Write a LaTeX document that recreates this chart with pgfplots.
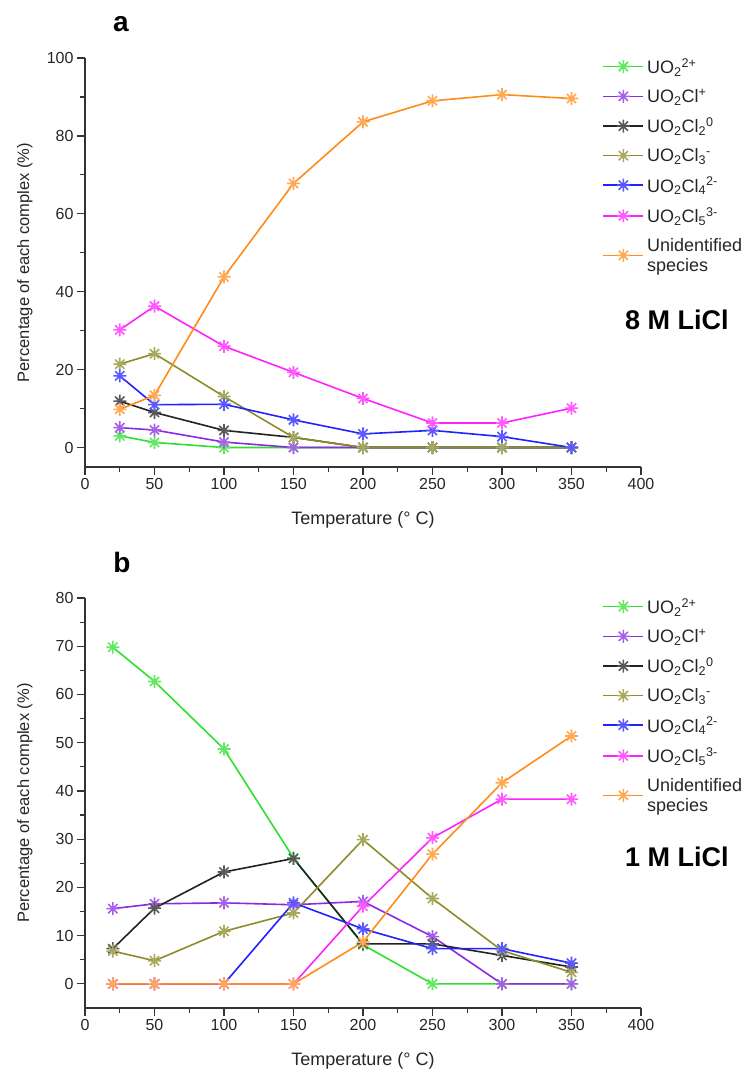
\documentclass[border=0pt]{standalone}
\usepackage{fontspec}
\setmainfont{Liberation Sans}
\usepackage{pgfplots}
\pgfplotsset{compat=1.18}

\definecolor{cgreen}{HTML}{2EE02E}
\definecolor{cviolet}{HTML}{8A2BE2}
\definecolor{cblack}{HTML}{222222}
\definecolor{colive}{HTML}{8C8C28}
\definecolor{cblue}{HTML}{2222FF}
\definecolor{cmagenta}{HTML}{FF22FF}
\definecolor{corange}{HTML}{FF8C1A}
\definecolor{axcol}{HTML}{333333}
\definecolor{txt}{HTML}{262626}

\pgfdeclareplotmark{ast8}{%
  \pgfpathmoveto{\pgfqpoint{0pt}{\pgfplotmarksize}}%
  \pgfpathlineto{\pgfqpoint{0pt}{-\pgfplotmarksize}}%
  \pgfpathmoveto{\pgfqpoint{\pgfplotmarksize}{0pt}}%
  \pgfpathlineto{\pgfqpoint{-\pgfplotmarksize}{0pt}}%
  \pgfpathmoveto{\pgfqpoint{.7071\pgfplotmarksize}{.7071\pgfplotmarksize}}%
  \pgfpathlineto{\pgfqpoint{-.7071\pgfplotmarksize}{-.7071\pgfplotmarksize}}%
  \pgfpathmoveto{\pgfqpoint{-.7071\pgfplotmarksize}{.7071\pgfplotmarksize}}%
  \pgfpathlineto{\pgfqpoint{.7071\pgfplotmarksize}{-.7071\pgfplotmarksize}}%
  \pgfusepathqstroke}

\pgfplotstableread{
x  g    p    k    o    b    m    r
25 3.0  5.1  11.9 21.4 18.4 30.2 9.8
50 1.3  4.5  9.0  24.1 11.0 36.3 13.4
100 0   1.4  4.4  13.1 11.1 26.0 43.8
150 0   0    2.6  2.6  7.1  19.3 67.8
200 0   0    0    0    3.5  12.6 83.6
250 0   0    0    0    4.4  6.3  89.0
300 0   0    0    0    2.8  6.3  90.6
350 0   0    0    0    0    10.1 89.6
}\dataA

\pgfplotstableread{
x  g    p    k    o    b    m    r
20 69.8 15.6 7.3  6.8  0    0    0
50 62.7 16.6 15.7 4.8  0    0    0
100 48.7 16.8 23.2 10.9 0   0    0
150 26.1 16.4 26.0 14.7 16.8 0   0
200 8.1 17.1 8.3  29.9 11.4 16.1 8.7
250 0   9.8  8.3  17.7 7.3  30.3 26.9
300 0   0    5.9  6.9  7.3  38.3 41.7
350 0   0    3.5  2.4  4.3  38.3 51.4
}\dataB

\pgfplotsset{
  panel/.style={
    scale only axis, width=556pt,
    xmin=0, xmax=400, xtick={0,50,...,400}, minor x tick num=1,
    axis x line*=bottom, axis y line*=left,
    tick align=outside, major tick length=8pt, minor tick length=5pt,
    axis line style={line width=1.2pt, color=axcol},
    every tick/.style={line width=1.2pt, color=axcol},
    tick label style={font=\fontsize{16}{16}\selectfont, color=txt},
    /pgf/number format/assume math mode=true,
    xlabel={Temperature (° C)},
    ylabel={Percentage of each complex (\%)},
    xlabel style={at={(axis description cs:0.5,-0.128)}, anchor=center,
      font=\fontsize{18}{18}\selectfont, color=txt},
    ylabel style={at={(axis description cs:-0.108,0.5)}, anchor=center,
      font=\fontsize{16.5}{16.5}\selectfont, color=txt},
    legend cell align=left,
    legend style={draw=none, fill=none, inner sep=0pt,
      at={(axis description cs:0.9305,1.0024)}, anchor=north west,
      font=\fontsize{18}{20}\selectfont, text=txt, row sep=12pt,
      nodes={inner ysep=1pt, inner xsep=3pt, align=left}},
    legend image code/.code={\draw[mark repeat=2,mark phase=2,##1] plot coordinates {(0pt,0pt) (20pt,0pt) (40pt,0pt)};},
    every axis plot/.append style={line width=1.6pt, mark=ast8, mark size=6.5pt,
      mark options={solid, line width=1pt}},
  }
}

\newcommand{\lgs}[1]{\rule{0pt}{13pt}#1\rule[-5pt]{0pt}{5pt}}

\begin{document}
\begin{tikzpicture}
\useasboundingbox (0pt,0pt) rectangle (745pt,-1070pt);

\begin{axis}[panel, at={(85pt,-467pt)}, anchor=south west, height=409pt,
  ymin=-5, ymax=100, ytick={0,20,...,100}, minor y tick num=1]
\addplot[color=cgreen, mark options={draw=cgreen!75!white}] table[x=x,y=g]{\dataA};
\addplot[color=cviolet, mark options={draw=cviolet!75!white}] table[x=x,y=p]{\dataA};
\addplot[color=cblack, mark options={draw=cblack!75!white}] table[x=x,y=k]{\dataA};
\addplot[color=colive, mark options={draw=colive!75!white}] table[x=x,y=o]{\dataA};
\addplot[color=cblue, mark options={draw=cblue!75!white}] table[x=x,y=b]{\dataA};
\addplot[color=cmagenta, mark options={draw=cmagenta!75!white}] table[x=x,y=m]{\dataA};
\addplot[color=corange, mark options={draw=corange!75!white}] table[x=x,y=r]{\dataA};
\legend{{\lgs{UO\textsubscript{2}\textsuperscript{2+}}},
{\lgs{UO\textsubscript{2}Cl\textsuperscript{+}}},
{\lgs{UO\textsubscript{2}Cl\textsubscript{2}\textsuperscript{0}}},
{\lgs{UO\textsubscript{2}Cl\textsubscript{3}\textsuperscript{-}}},
{\lgs{UO\textsubscript{2}Cl\textsubscript{4}\textsuperscript{2-}}},
{\lgs{UO\textsubscript{2}Cl\textsubscript{5}\textsuperscript{3-}}},
{Unidentified\\species}}
\end{axis}

\begin{axis}[panel, at={(85pt,-1008pt)}, anchor=south west, height=410pt,
  ymin=-5, ymax=80, ytick={0,10,...,80}, minor y tick num=1]
\addplot[color=cgreen, mark options={draw=cgreen!75!white}] table[x=x,y=g]{\dataB};
\addplot[color=cviolet, mark options={draw=cviolet!75!white}] table[x=x,y=p]{\dataB};
\addplot[color=cblack, mark options={draw=cblack!75!white}] table[x=x,y=k]{\dataB};
\addplot[color=colive, mark options={draw=colive!75!white}] table[x=x,y=o]{\dataB};
\addplot[color=cblue, mark options={draw=cblue!75!white}] table[x=x,y=b]{\dataB};
\addplot[color=cmagenta, mark options={draw=cmagenta!75!white}] table[x=x,y=m]{\dataB};
\addplot[color=corange, mark options={draw=corange!75!white}] table[x=x,y=r]{\dataB};
\legend{{\lgs{UO\textsubscript{2}\textsuperscript{2+}}},
{\lgs{UO\textsubscript{2}Cl\textsuperscript{+}}},
{\lgs{UO\textsubscript{2}Cl\textsubscript{2}\textsuperscript{0}}},
{\lgs{UO\textsubscript{2}Cl\textsubscript{3}\textsuperscript{-}}},
{\lgs{UO\textsubscript{2}Cl\textsubscript{4}\textsuperscript{2-}}},
{\lgs{UO\textsubscript{2}Cl\textsubscript{5}\textsuperscript{3-}}},
{Unidentified\\species}}
\end{axis}

\node[font=\bfseries\fontsize{28}{28}\selectfont, text=black] at (121pt,-24pt) {a};
\node[font=\bfseries\fontsize{28}{28}\selectfont, text=black] at (122pt,-562pt) {b};
\node[font=\bfseries\fontsize{27}{27}\selectfont, text=black, anchor=west, inner sep=0pt] at (625pt,-320pt) {8 M LiCl};
\node[font=\bfseries\fontsize{27}{27}\selectfont, text=black, anchor=west, inner sep=0pt] at (625pt,-857pt) {1 M LiCl};
\end{tikzpicture}
\end{document}
